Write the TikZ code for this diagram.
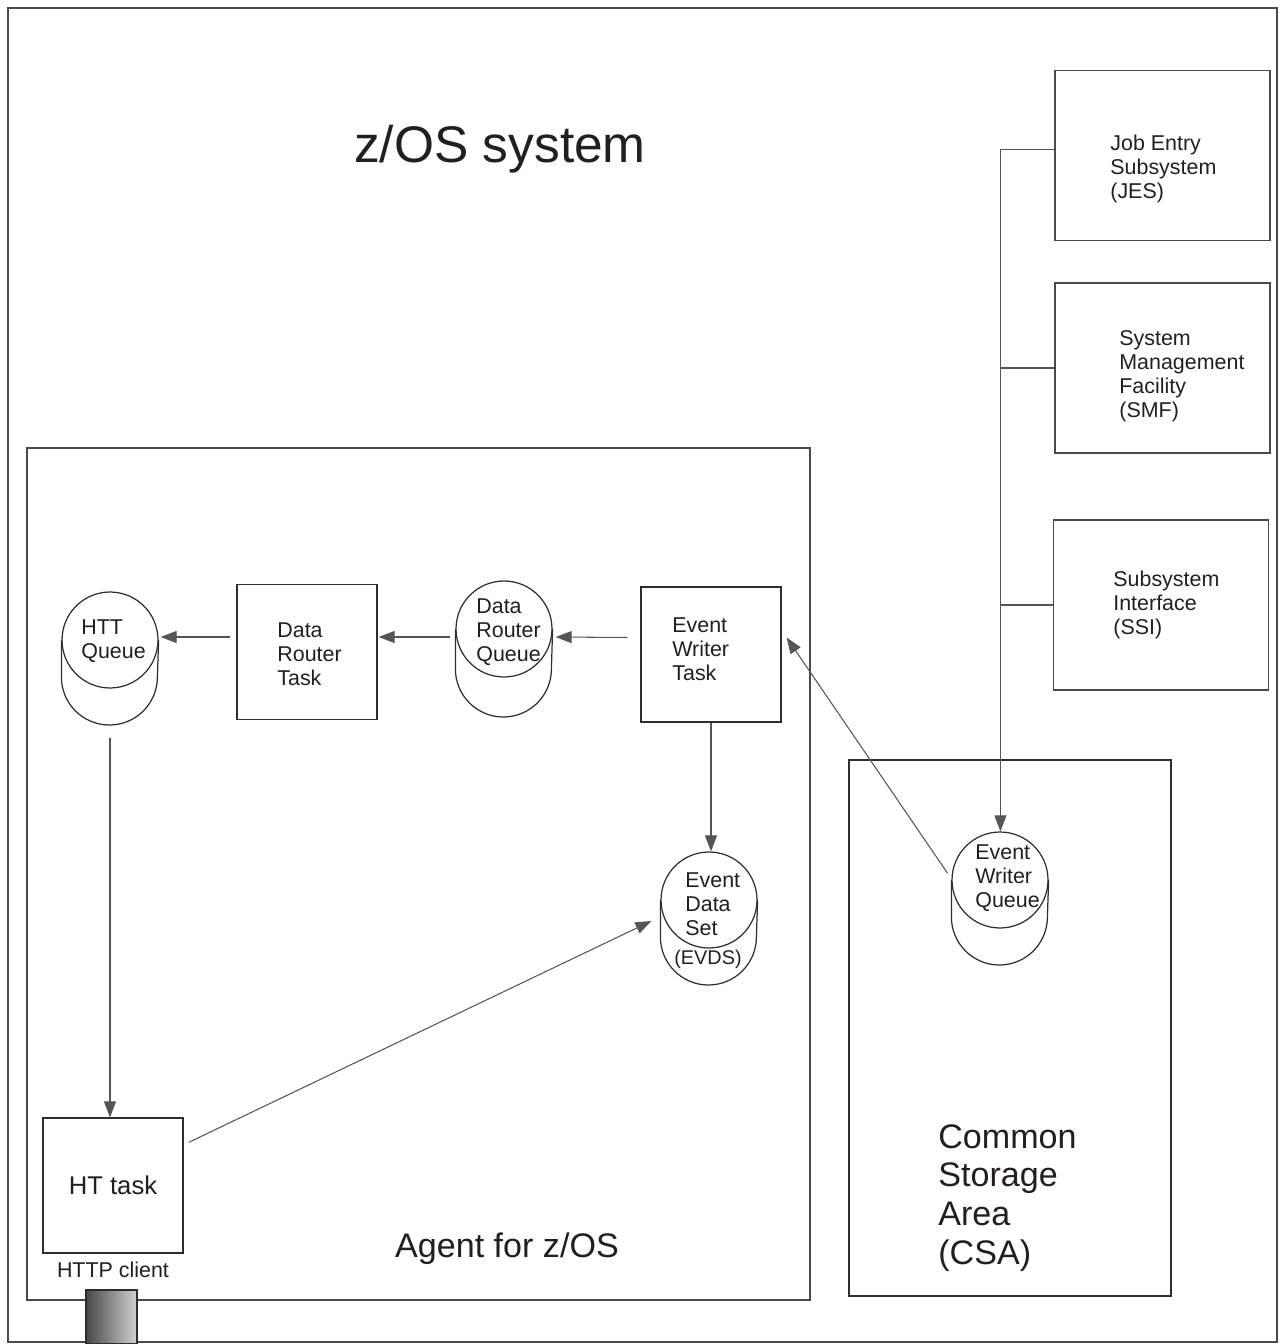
\documentclass[tikz,border=0pt]{standalone}
\usepackage{fontspec}
\setmainfont{Liberation Sans}
\usetikzlibrary{calc,arrows.meta,positioning}

\definecolor{frameclr}{HTML}{4A4A4A}
\definecolor{lineclr}{HTML}{2E2E2E}
\definecolor{linkclr}{HTML}{555555}
\definecolor{txtclr}{HTML}{231F20}

\tikzset{
  box/.style={draw=lineclr, line width=0.7pt, minimum width=2.8cm, minimum height=2.7cm, inner sep=0pt},
  sysbox/.style={box, draw=frameclr, minimum width=4.3cm, minimum height=3.4cm},
  queue/.style={circle, draw=lineclr, line width=0.7pt, minimum size=1.92cm, inner sep=0pt},
  lbl/.style={inner sep=0pt, align=left, anchor=west, text=txtclr, font=\fontsize{12.2pt}{13.6pt}\selectfont},
  biglbl/.style={inner sep=0pt, text=txtclr, font=\fontsize{19.4pt}{22.1pt}\selectfont},
  arr/.style={draw=linkclr, line width=0.6pt, -{Triangle[length=0.32cm,width=0.24cm]}},
  link/.style={draw=linkclr, line width=0.6pt},
}

% lower body of a queue cylinder
\newcommand\queuebody[2]{%
  \draw[lineclr, line width=0.7pt] (#1.west) -- ++(0,#2)
    arc[start angle=180, end angle=0, radius=48] -- (#1.east);
  \coordinate (#1-b) at ($(#1.south)+(0,#2)$);}

\begin{document}
\begin{tikzpicture}[x=0.02cm,y=-0.02cm]
    \useasboundingbox (0,0) rectangle (1282,1344);

    % z/OS system frame
    \draw[frameclr, line width=0.8pt] (8,8) rectangle (1277,1342);
    \node[inner sep=0pt, text=txtclr, font=\fontsize{29.3pt}{35pt}\selectfont] (title) at (500,149) {z/OS system};

    % Agent and CSA areas
    \draw[frameclr, line width=0.8pt] (27,448) rectangle (810,1300);
    \draw[lineclr, line width=0.7pt] (849,760) rectangle (1171,1296);
    \node[biglbl] (agent) at (507,1249) {Agent for z/OS};
    \node[biglbl, align=left, anchor=west] (csa) at (938,1198) {Common\\Storage\\Area\\(CSA)};

    % Subsystems
    \node[sysbox] (jes) at (1162.5,155.5) {};
    \node[sysbox] (smf) at (1162.5,368) {};
    \node[sysbox] (ssi) at (1161,605) {};
    \node[lbl] (jes-t) at (1110,169) {Job Entry\\Subsystem\\(JES)};
    \node[lbl] (smf-t) at (1119,376) {System\\Management\\Facility\\(SMF)};
    \node[lbl] (ssi-t) at (1113,605) {Subsystem\\Interface\\(SSI)};

    % Tasks
    \node[box] (drt) at (307,652) {};
    \node[box] (ewt) at (711,654.5) {};
    \node[box, text=txtclr, font=\fontsize{14.6pt}{17pt}\selectfont] (ht) at (113,1185.5) {HT task};
    \node[lbl] (drt-t) at (277,654) {Data\\Router\\Task};
    \node[lbl] (ewt-t) at (672,649) {Event\\Writer\\Task};
    \node[inner sep=0pt, text=txtclr, font=\fontsize{12.2pt}{13.6pt}\selectfont] (http) at (113,1270) {HTTP client};

    % Queues
    \node[queue] (httq) at (110,640) {};
    \node[queue] (drq) at (504,629) {};
    \node[queue] (evds) at (709,900) {};
    \node[queue] (ewq) at (1000,880) {};
    \queuebody{httq}{37}
    \queuebody{drq}{40}
    \queuebody{evds}{37}
    \queuebody{ewq}{37}
    \node[lbl] (httq-t) at (81,641) {HTT\\Queue};
    \node[lbl] (drq-t) at (476,632) {Data\\Router\\Queue};
    \node[lbl] (evds-t) at (685,904) {Event\\Data\\Set};
    \node[inner sep=0pt, text=txtclr, font=\fontsize{11.3pt}{13pt}\selectfont] (evds-s) at (708,959) {(EVDS)};
    \node[lbl] (ewq-t) at (975,878) {Event\\Writer\\Queue};

    % HTTP port
    \shade[left color=black!72, right color=black!18, draw=lineclr, line width=0.6pt] (86,1290) rectangle (137,1344);

    % Connectors
    \draw[arr] ($(drt.west)+(-6,-15)$) -- ($(httq.east)+(2,-3)$);
    \draw[arr] ($(drq.west)+(-5,8)$) -- ($(drt.east)+(1,-15)$);
    \draw[arr] ($(ewt.west)+(-13,-17)$) -- ($(drq.east)+(3,8)$);
    \draw[arr] ($(ewq.west)+(-4,-7)$) -- ($(ewt.east)+(5,-17)$);
    \draw[arr] (ewt.south) -- (evds.north -| ewt.south);
    \draw[arr] ($(httq-b)+(0,12)$) -- (ht.north -| httq-b);
    \draw[arr] ($(ht.north east)+(5,25)$) -- ($(evds.west)+(-9,21)$);

    % Subsystem trunk
    \coordinate (trunk) at ($(jes.west)+(-54,-6)$);
    \draw[link] (jes.west |- trunk) -- (trunk);
    \draw[link] (smf.west) -- (smf.west -| trunk);
    \draw[link] (ssi.west) -- (ssi.west -| trunk);
    \draw[arr] (trunk) -- (trunk |- ewq.north);
\end{tikzpicture}
\end{document}
